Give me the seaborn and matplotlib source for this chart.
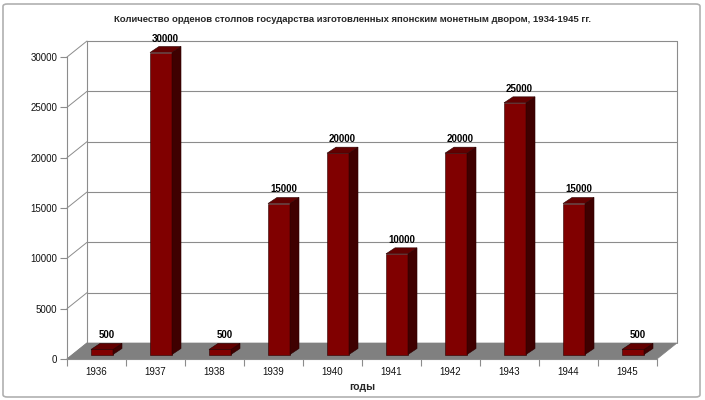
import numpy as np
import pandas as pd
import matplotlib
matplotlib.use("Agg")
import matplotlib.pyplot as plt
from matplotlib.patches import Polygon, FancyBboxPatch
from matplotlib.lines import Line2D
import seaborn as sns

years = ["1936", "1937", "1938", "1939", "1940", "1941", "1942", "1943", "1944", "1945"]
counts = [500, 30000, 500, 15000, 20000, 10000, 20000, 25000, 15000, 500]
yticks = [0, 5000, 10000, 15000, 20000, 25000, 30000]
title = "Количество орденов столпов государства изготовленных японским монетным двором, 1934-1945 гг."
xlabel = "годы"

sns.set_style("white")
plt.rcParams["font.family"] = ["Liberation Sans", "DejaVu Sans"]

FRONT = "#800000"
TOP = "#620000"
SIDE = "#3f0000"
EDGE = "#2a0000"
GRID = "#8c8c8c"
FLOOR = "#808080"

fig = plt.figure(figsize=(7.05, 4.0), dpi=100)
ax = fig.add_axes([67 / 705, 41 / 400, 590 / 705, 302 / 400])

df = pd.DataFrame({"year": years, "count": counts})
sns.barplot(data=df, x="year", y="count", color=FRONT, saturation=1, width=0.373,
            edgecolor=EDGE, linewidth=0.4, ax=ax, zorder=3)
ax.set_xlim(-0.5, len(years) - 0.5)
ax.set_ylim(0, 30000)

# pixel -> data conversions
sx = 590 / len(years)   # px per category
sy = 302 / 30000        # px per unit
def px(dx):
    return dx / sx
def py(dy):
    return dy / sy

# 3D geometry (pixels)
WDX, WDY = 20, 16     # wall depth
BDX, BDY = 5.5, 4.5   # bar front-face offset
DX, DY = 9, 6         # bar depth

x0, x1 = -0.5, len(years) - 0.5

# floor
ax.add_patch(Polygon([(x0, 0), (x1, 0), (x1 + px(WDX), py(WDY)), (x0 + px(WDX), py(WDY))],
                     closed=True, facecolor=FLOOR, edgecolor=FLOOR, lw=0.5, zorder=1, clip_on=False))

# back wall & left wall lines
for v in yticks:
    if v > 0:
        ax.add_line(Line2D([x0 + px(WDX), x1 + px(WDX)], [v + py(WDY)] * 2, color=GRID, lw=0.8,
                           zorder=0.5, clip_on=False))
    ax.add_line(Line2D([x0, x0 + px(WDX)], [v, v + py(WDY)], color=GRID, lw=0.7, zorder=0.5, clip_on=False))
for xe in (x0 + px(WDX), x1 + px(WDX)):
    ax.add_line(Line2D([xe, xe], [py(WDY), 30000 + py(WDY)], color=GRID, lw=0.8, zorder=0.5, clip_on=False))

# 3D bars
for p, v in zip(ax.patches, counts):
    bx = p.get_x() + px(BDX)
    w = p.get_width()
    h = p.get_height()
    by = py(BDY)
    p.set_x(bx)
    p.set_y(by)
    p.set_clip_on(False)
    xr = bx + w
    top = by + h
    ax.add_patch(Polygon([(xr, by), (xr, top), (xr + px(DX), top + py(DY)), (xr + px(DX), by + py(DY))],
                         closed=True, facecolor=SIDE, edgecolor=EDGE, lw=0.4, zorder=3, clip_on=False))
    ax.add_patch(Polygon([(bx, top), (xr, top), (xr + px(DX), top + py(DY)), (bx + px(DX), top + py(DY))],
                         closed=True, facecolor=TOP, edgecolor=EDGE, lw=0.4, zorder=3, clip_on=False))

for i, v in enumerate(counts):
    ax.annotate(str(v), xy=(i, v), xytext=(BDX + DX / 2, BDY + DY + 8), textcoords="offset pixels",
                ha="center", va="center", fontsize=7, fontweight="bold", color="#000000",
                annotation_clip=False, zorder=5)

# axes styling
for s in ("top", "right"):
    ax.spines[s].set_visible(False)
ax.spines["left"].set_color(GRID)
ax.spines["bottom"].set_color(GRID)
ax.spines["left"].set_linewidth(0.8)
ax.spines["bottom"].set_linewidth(0.8)
ax.set_yticks(yticks)
ax.set_yticklabels([str(t) for t in yticks])
ax.set_xticks(range(len(years)))
ax.set_xticklabels(years)
ax.set_xticks(np.arange(-0.5, len(years)), minor=True)
ax.tick_params(axis="y", direction="out", length=5, width=0.8, color=GRID, labelsize=7, pad=2,
               labelcolor="#111111", left=True)
ax.tick_params(axis="x", which="major", length=0, labelsize=7, pad=6, labelcolor="#111111")
ax.tick_params(axis="x", which="minor", direction="out", length=5, width=0.8, color=GRID, bottom=True)
ax.set_ylabel("")
ax.set_xlabel(xlabel, fontsize=7.5, fontweight="bold", labelpad=3)
ax.patch.set_alpha(0)

fig.text(0.5, 1 - 19 / 400, title, ha="center", va="center", fontsize=6.8, fontweight="bold")

fig.patches.append(FancyBboxPatch((3 / 705, 3 / 400), 697 / 705, 393 / 400,
                                  boxstyle="round,pad=0,rounding_size=0.006",
                                  transform=fig.transFigure, fill=False, ec="#b0b0b0", lw=1.2))

fig.savefig("out.png", dpi=100)
